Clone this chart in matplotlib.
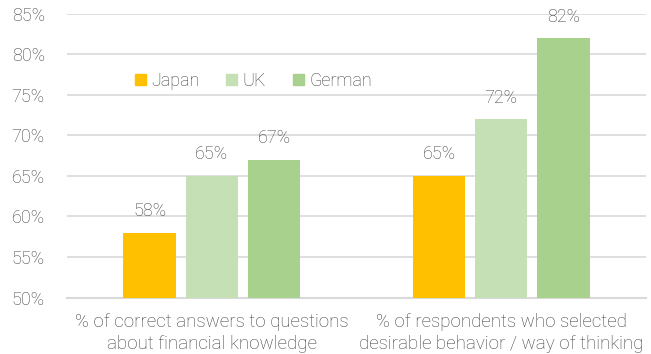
import numpy as np
import matplotlib.pyplot as plt
from matplotlib.patches import Patch

plt.rcParams["font.family"] = ["Roboto", "DejaVu Sans"]
plt.rcParams["font.weight"] = "light"

categories = [
    "% of correct answers to questions\nabout financial knowledge",
    "% of respondents who selected\ndesirable behavior / way of thinking",
]
series_names = ["Japan", "UK", "German"]
japan = [58, 65]
uk = [65, 72]
german = [67, 82]
yticks = [50, 55, 60, 65, 70, 75, 80, 85]

colours = ["#FFC000", "#C5E0B4", "#A9D18E"]
text_col = "#404040"
grid_col = "#D9D9D9"

fig = plt.figure(figsize=(6.51, 3.54), dpi=100)
ax = fig.add_axes([0.1029, 0.1596, 0.8894, 0.8009])

x = np.arange(len(categories))
width = 0.18
step = 0.215
for i, (vals, col) in enumerate(zip([japan, uk, german], colours)):
    pos = x + (i - 1) * step
    ax.bar(pos, vals, width=width, bottom=0, color=col, zorder=3)
    for px, v in zip(pos, vals):
        ax.annotate(f"{v}%", (px, v), xytext=(0, 9), textcoords="offset points",
                    ha="center", va="bottom", fontsize=13, color=text_col)

ax.set_xlim(-0.5, 1.5)
ax.set_ylim(50, 85)
ax.set_yticks(yticks)
ax.set_yticklabels([f"{t}%" for t in yticks])
ax.set_xticks(x)
ax.set_xticklabels(categories, fontsize=13.5, color=text_col, linespacing=1.3)
ax.tick_params(axis="y", length=0, pad=16, labelsize=13, labelcolor=text_col)
ax.tick_params(axis="x", length=0, pad=11)
ax.yaxis.grid(True, color=grid_col, linewidth=1.2, zorder=0)
for s in ["top", "right", "left"]:
    ax.spines[s].set_visible(False)
ax.spines["bottom"].set_color(grid_col)
ax.spines["bottom"].set_linewidth(1.5)

handles = [Patch(color=c) for c in colours]
ax.legend(handles, series_names, loc="center", bbox_to_anchor=(0.322, 0.7637),
          ncol=3, frameon=False, fontsize=13, labelcolor=text_col,
          handlelength=0.6, handleheight=0.6, handletextpad=0.3, columnspacing=1.5)

fig.savefig("out.png", dpi=100)
